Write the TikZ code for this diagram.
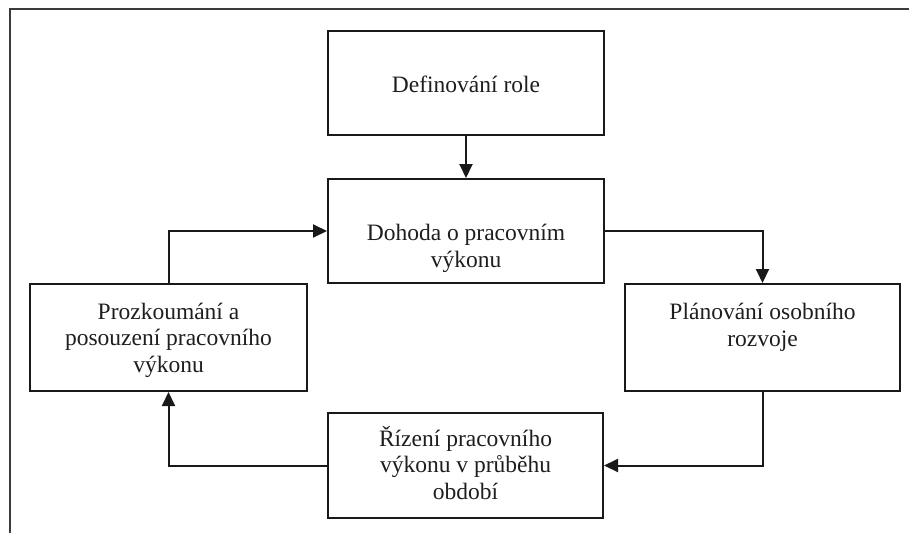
\documentclass[tikz,border=0pt]{standalone}
\usepackage{fontspec}
\setmainfont{Liberation Serif}
\usepackage{tikz}
\usetikzlibrary{arrows.meta,positioning}
\definecolor{linecolor}{RGB}{25,25,25}
\definecolor{textcolor}{RGB}{30,30,30}

\begin{document}
\begin{tikzpicture}[x=1pt,y=-1pt,>={Triangle[length=14pt,width=13pt]},
  box/.style={draw=linecolor,line width=2pt,minimum width=276pt,minimum height=105pt,inner sep=0pt},
  txt/.style={anchor=base,align=center,inner sep=0pt,text=textcolor,
    font=\fontsize{23.5pt}{26.5pt}\selectfont},
  link/.style={->,draw=linecolor,line width=2pt}]
  \useasboundingbox (0,0) rectangle (909,533);
  % outer frame (only its top and left sides are in view)
  \draw[linecolor!85,line width=2pt] (9.5,533) |- (909,9);
  % boxes
  \node[box,minimum height=104pt] (role) at (466,83) {};
  \node[box,minimum height=104pt] (dohoda) at (466,231) {};
  \node[box,minimum width=277pt,minimum height=107pt] (prozk) at (168.5,337.5) {};
  \node[box,minimum width=275pt,minimum height=107pt] (plan) at (762.5,337.5) {};
  \node[box,minimum width=275pt] (rizeni) at (465.5,465.5) {};
  % texts (base = baseline of the last line)
  \node[txt] (roleText) at ([yshift=-62pt]role.north) {Definování role};
  \node[txt] (dohodaText) at ([yshift=-89pt]dohoda.north) {Dohoda o pracovním\\ výkonu};
  \node[txt] (prozkText) at ([yshift=-89pt]prozk.north) {Prozkoumání a\\ posouzení pracovního\\ výkonu};
  \node[txt] (planText) at ([yshift=-63pt]plan.north) {Plánování osobního\\ rozvoje};
  \node[txt] (rizeniText) at ([yshift=-87pt]rizeni.north) {Řízení pracovního\\ výkonu v průběhu\\ období};
  % cycle
  \draw[link] (role) -- (dohoda);
  \draw[link] (dohoda.east) -| (plan.north);
  \draw[link] (plan.south) |- (rizeni.east);
  \draw[link] (rizeni.west) -| (prozk.south);
  \draw[link] (prozk.north) |- (dohoda.west);
\end{tikzpicture}
\end{document}
